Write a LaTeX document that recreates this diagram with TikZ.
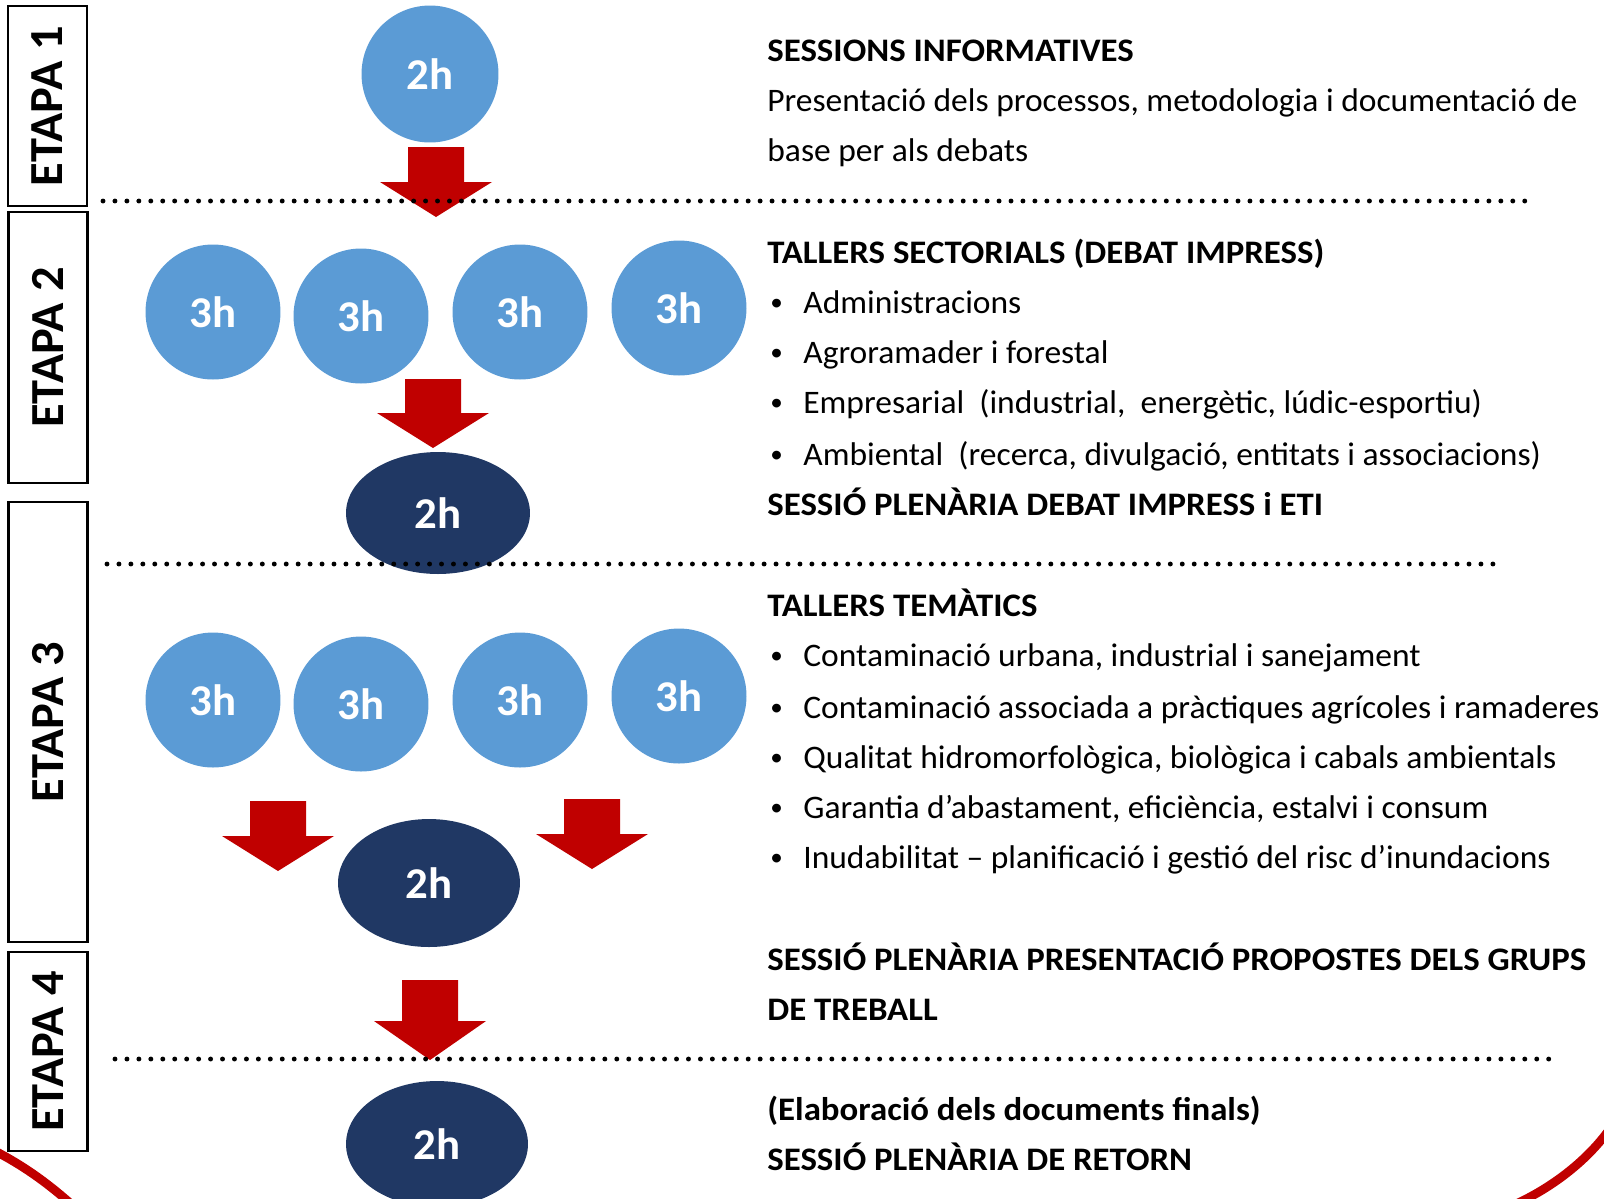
\documentclass[tikz,border=0pt]{standalone}
\usepackage{fontspec}
\setmainfont{Carlito}[FakeStretch=1.02]
\newfontfamily\headfont{Carlito}[FakeStretch=1.06]
\usepackage{tikz}
\usetikzlibrary{shapes.geometric}

\definecolor{lightblue}{HTML}{5B9BD5}
\definecolor{darknavy}{HTML}{203864}
\definecolor{arrowred}{HTML}{C00000}

\newcommand{\dotbullet}{{\fontsize{14}{14}\selectfont\raisebox{1.6pt}{•}}}

\tikzset{
    etapa/.style={draw, line width=1.3pt, rotate=90, minimum height=1.58cm,
        inner sep=0pt, font=\fontsize{27}{30}\selectfont\bfseries},
    lightcirc/.style={circle, fill=lightblue, minimum size=2.7cm, inner sep=0pt,
        text=white, font=\fontsize{25}{28}\selectfont\bfseries},
    darkoval/.style={ellipse, fill=darknavy, inner sep=0pt,
        text=white, font=\fontsize{25}{28}\selectfont\bfseries},
    txt/.style={anchor=base west, inner sep=0pt, font=\fontsize{18.7}{22}\selectfont},
    head/.style={txt, font=\fontsize{18.7}{22}\headfont\bfseries},
    dotline/.style={line width=2.8pt, line cap=round, dash pattern=on 0pt off 6.8pt}
}

\begin{document}
\begin{tikzpicture}[x=0.02cm, y=-0.02cm]
        \useasboundingbox (0, 0) rectangle (1604, 1198);
        % stage boxes
        \node[etapa, minimum width=4cm] (e1) at (47.5, 106) {ETAPA 1};
        \node[etapa, minimum width=5.42cm] (e2) at (48, 347.5) {ETAPA 2};
        \node[etapa, minimum width=8.8cm] (e3) at (48, 722) {ETAPA 3};
        \node[etapa, minimum width=3.98cm] (e4) at (48, 1051.5) {ETAPA 4};
        % sessions
        \node[lightcirc, minimum size=2.74cm] (s1) at (430, 74) {2h};
        \node[lightcirc] (s2a) at (213, 312) {3h};
        \node[lightcirc] (s2b) at (361, 316) {3h};
        \node[lightcirc] (s2c) at (520, 312) {3h};
        \node[lightcirc] (s2d) at (679, 308) {3h};
        \node[darkoval, minimum width=3.68cm, minimum height=2.44cm] (p2) at (438, 513) {2h};
        \node[lightcirc] (s3a) at (213, 700) {3h};
        \node[lightcirc] (s3b) at (361, 704) {3h};
        \node[lightcirc] (s3c) at (520, 700) {3h};
        \node[lightcirc] (s3d) at (679, 696) {3h};
        \node[darkoval, minimum width=3.64cm, minimum height=2.56cm] (p3) at (429, 883) {2h};
        \node[darkoval, minimum width=3.64cm, minimum height=2.52cm] (p4) at (437, 1144) {2h};
        % red block arrows
        \foreach \cx/\ty/\sh/\hd in {436/147/35/35, 433/379/34/35, 278/801/35/35, 592/799/35/35, 430/980/41/39}
            \fill[arrowred] (\cx-28, \ty) -- ++(0, \sh) -- ++(-28, 0) -- ++(56, \hd)
                -- ++(56, -\hd) -- ++(-28, 0) -- ++(0, -\sh) -- cycle;
        % texts
        \node[head] (t1) at (767, 61) {SESSIONS INFORMATIVES};
        \node[txt] (t1a) at (767, 111) {Presentació dels processos, metodologia i documentació de};
        \node[txt] (t1b) at (767, 161) {base per als debats};
        \node[head] (t2) at (767, 263) {TALLERS SECTORIALS (DEBAT IMPRESS)};
        \node[txt] (b2a) at (770, 313) {\dotbullet};
        \node[txt] (t2a) at (803, 313) {Administracions};
        \node[txt] (b2b) at (770, 363) {\dotbullet};
        \node[txt] (t2b) at (803, 363) {Agroramader i forestal};
        \node[txt] (b2c) at (770, 413) {\dotbullet};
        \node[txt] (t2c) at (803, 413) {Empresarial \ (industrial, \ energètic, lúdic-esportiu)};
        \node[txt] (b2d) at (770, 465) {\dotbullet};
        \node[txt] (t2d) at (803, 465) {Ambiental \ (recerca, divulgació, entitats i associacions)};
        \node[head] (t2e) at (767, 515) {SESSIÓ PLENÀRIA DEBAT IMPRESS i ETI};
        \node[head] (t3) at (767, 616) {TALLERS TEMÀTICS};
        \node[txt] (b3a) at (770, 666) {\dotbullet};
        \node[txt] (t3a) at (803, 666) {Contaminació urbana, industrial i sanejament};
        \node[txt] (b3b) at (770, 718) {\dotbullet};
        \node[txt] (t3b) at (803, 718) {Contaminació associada a pràctiques agrícoles i ramaderes};
        \node[txt] (b3c) at (770, 768) {\dotbullet};
        \node[txt] (t3c) at (803, 768) {Qualitat hidromorfològica, biològica i cabals ambientals};
        \node[txt] (b3d) at (770, 818) {\dotbullet};
        \node[txt] (t3d) at (803, 818) {Garantia d’abastament, eficiència, estalvi i consum};
        \node[txt] (b3e) at (770, 868) {\dotbullet};
        \node[txt] (t3e) at (803, 868) {Inudabilitat – planificació i gestió del risc d’inundacions};
        \node[head] (t3f) at (767, 970) {SESSIÓ PLENÀRIA PRESENTACIÓ PROPOSTES DELS GRUPS};
        \node[head] (t3g) at (767, 1020) {DE TREBALL};
        \node[head] (t4a) at (767, 1120) {(Elaboració dels documents finals)};
        \node[head] (t4b) at (767, 1170) {SESSIÓ PLENÀRIA DE RETORN};
        % stage separators
        \coordinate (d1a) at (103, 201);
        \coordinate (d1b) at (1530, 201);
        \coordinate (d2a) at (107, 564);
        \coordinate (d2b) at (1494, 564);
        \coordinate (d3a) at (115, 1059);
        \coordinate (d3b) at (1550, 1059);
        \draw[dotline] (d1a) -- (d1b);
        \draw[dotline] (d2a) -- (d2b);
        \draw[dotline] (d3a) -- (d3b);
        % red frame corners
        \draw[arrowred, line width=5pt] (-5, 1151) .. controls (22, 1165) and (45, 1181) .. (70, 1203);
        \draw[arrowred, line width=5pt] (1518, 1203) .. controls (1550, 1188) and (1585, 1163) .. (1609, 1130);
    \end{tikzpicture}
\end{document}
